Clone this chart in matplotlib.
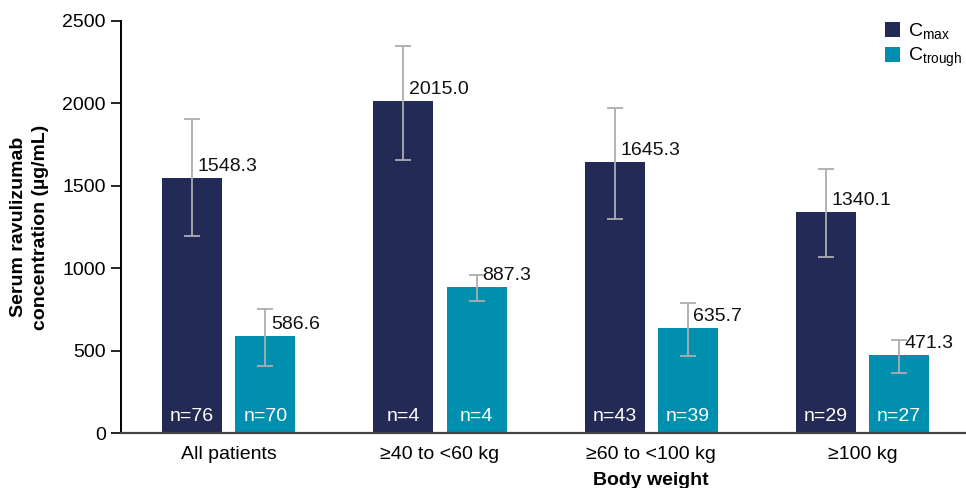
import numpy as np
import matplotlib.pyplot as plt

plt.rcParams['font.family'] = ['Liberation Sans', 'DejaVu Sans']
plt.rcParams['mathtext.fontset'] = 'custom'
plt.rcParams['mathtext.rm'] = 'Liberation Sans'

groups = ['All patients', '≥40 to <60 kg', '≥60 to <100 kg', '≥100 kg']
cmax = [1548.3, 2015.0, 1645.3, 1340.1]
cmax_low = [1195, 1658, 1299, 1070]
cmax_high = [1907, 2348, 1970, 1602]
cmax_n = [76, 4, 43, 29]
ctrough = [586.6, 887.3, 635.7, 471.3]
ctrough_low = [408, 799, 469, 362]
ctrough_high = [754, 961, 787, 566]
ctrough_n = [70, 4, 39, 27]

navy = '#232a55'
teal = '#008faf'
fs = 14

fig = plt.figure(figsize=(9.66, 4.88), dpi=100)
ax = fig.add_axes([0.1253, 0.1127, 0.8747, 0.8443])

x = np.arange(len(groups))
width = 0.284
off = 0.173

series = [
    (x - off, cmax, cmax_low, cmax_high, cmax_n, navy, r'C$_{\mathrm{max}}$'),
    (x + off, ctrough, ctrough_low, ctrough_high, ctrough_n, teal, r'C$_{\mathrm{trough}}$'),
]
for pos, vals, lo, hi, ns, col, lab in series:
    vals = np.array(vals)
    yerr = [vals - np.array(lo), np.array(hi) - vals]
    ax.bar(pos, vals, width, color=col, label=lab, zorder=2)
    ax.errorbar(pos, vals, yerr=yerr, fmt='none', ecolor='#adadad',
                elinewidth=1.3, capsize=6, capthick=1.3, zorder=3)
    for xi, v, n in zip(pos, vals, ns):
        ax.annotate(f'{v:.1f}', (xi, v), xytext=(4, 5), textcoords='offset points',
                    ha='left', va='baseline', fontsize=fs, color='#111111', zorder=4)
        ax.text(xi, 70, f'n={n}', ha='center', va='baseline', fontsize=fs,
                color='white', zorder=4)

ax.set_xlim(-0.51, 3.49)
ax.set_ylim(0, 2500)
ax.set_yticks(np.arange(0, 2501, 500))
ax.set_xticks(x)
ax.set_xticklabels(groups)
ax.tick_params(axis='x', length=0, labelsize=fs, pad=9)
ax.tick_params(axis='y', length=7, width=1.2, labelsize=fs, pad=4)

for s in ['top', 'right']:
    ax.spines[s].set_visible(False)
ax.spines['left'].set_linewidth(1.4)
ax.spines['bottom'].set_linewidth(1.6)
ax.spines['bottom'].set_color('#444444')

ax.set_ylabel('Serum ravulizumab\nconcentration (µg/mL)', fontsize=fs,
              fontweight='bold', linespacing=1.4)
ax.yaxis.set_label_coords(-0.085, 0.5)
ax.set_xlabel('Body weight', fontsize=fs, fontweight='bold')
ax.xaxis.set_label_coords(0.627, -0.095)

ax.legend(loc='upper right', bbox_to_anchor=(1.0, 1.008), borderaxespad=0,
          borderpad=0.2, frameon=False, fontsize=fs, handlelength=0.8,
          handleheight=0.8, handletextpad=0.4, labelspacing=0.2)

fig.savefig('out.png', dpi=100)
